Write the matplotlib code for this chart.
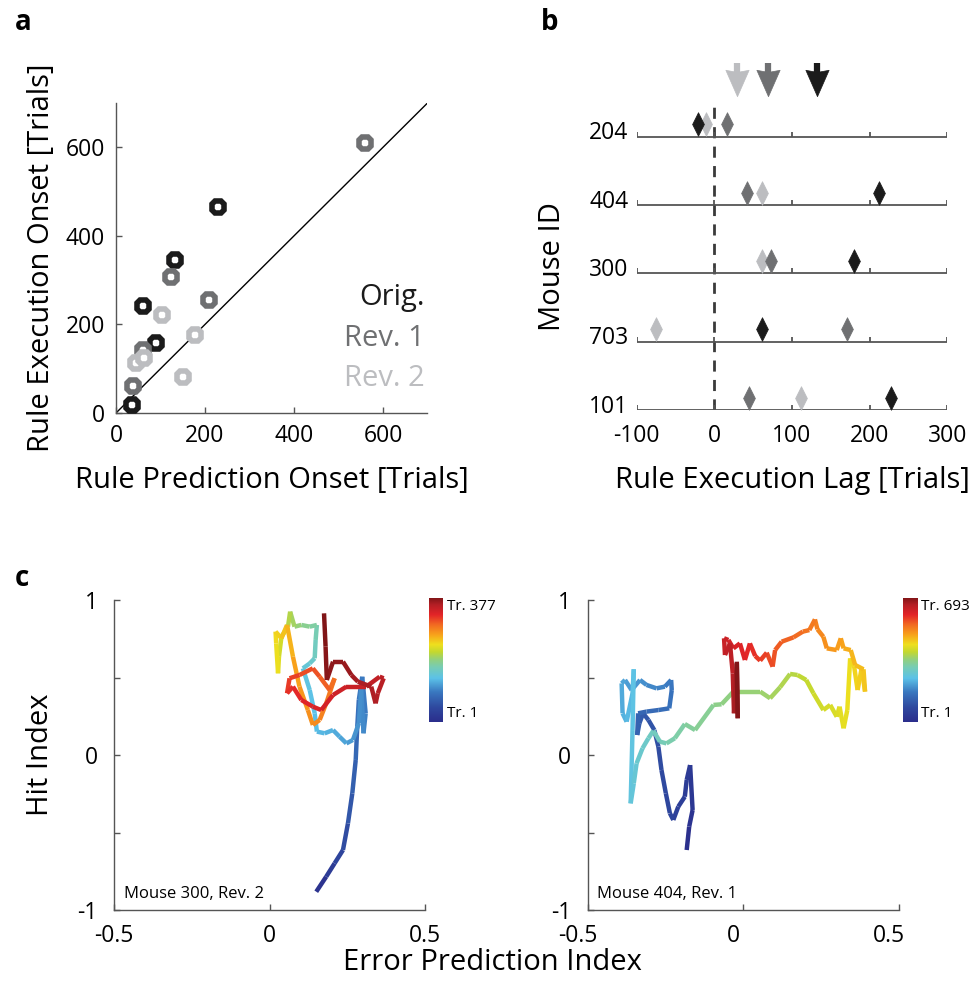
import numpy as np
import matplotlib
matplotlib.use("Agg")
import matplotlib.pyplot as plt
from matplotlib.collections import LineCollection
from matplotlib.colors import LinearSegmentedColormap, Normalize
from matplotlib.path import Path
import matplotlib.transforms as mtransforms

plt.rcParams['font.family'] = ['Open Sans', 'DejaVu Sans']

# ---------------- data ----------------
# panel a: onsets [trials]
orig_pred = [35, 91, 61, 133, 230]
orig_exec = [18, 158, 242, 346, 465]
rev1_pred = [39, 61, 123, 210, 560]
rev1_exec = [60, 142, 306, 256, 610]
rev2_pred = [46, 63, 104, 178, 151]
rev2_exec = [112, 124, 222, 176, 82]

# panel b: execution lag per mouse
mouse_ids = ['101', '703', '300', '404', '204']
lag_orig = [227, 62, 180, 212, -21]
lag_rev1 = [45, 171, 73, 42, 16]
lag_rev2 = [111, -75, 61, 61, -11]

# panel c: trajectories (trial, error prediction index, hit index)
m300_trial = [1, 16, 31, 42, 54, 65, 72, 80, 87, 91, 95, 99, 103, 106, 110, 114, 118, 121,
              125, 129, 133, 136, 140, 148, 155, 163, 170, 178, 185, 193, 200, 208, 215, 223,
              230, 234, 238, 245, 253, 260, 268, 272, 275, 279, 283, 287, 294, 302, 306, 309,
              313, 317, 321, 324, 328, 332, 336, 339, 343, 347, 351, 353, 355, 357, 358, 362,
              366, 368, 370, 373, 377]
m300_x = [0.150, 0.182, 0.209, 0.236, 0.252, 0.266, 0.277, 0.282, 0.287, 0.298, 0.309, 0.302,
          0.295, 0.287, 0.268, 0.247, 0.225, 0.204, 0.177, 0.152, 0.145, 0.129, 0.107, 0.129,
          0.145, 0.148, 0.152, 0.129, 0.102, 0.080, 0.066, 0.059, 0.038, 0.030, 0.027, 0.021,
          0.019, 0.038, 0.056, 0.075, 0.096, 0.123, 0.139, 0.161, 0.182, 0.209, 0.193, 0.161,
          0.139, 0.096, 0.064, 0.056, 0.075, 0.102, 0.139, 0.166, 0.204, 0.247, 0.311, 0.354,
          0.367, 0.348, 0.341, 0.327, 0.284, 0.263, 0.236, 0.204, 0.184, 0.180, 0.175]
m300_y = [-0.882, -0.785, -0.699, -0.613, -0.441, -0.247, -0.032, 0.183, 0.355, 0.505, 0.269,
          0.140, 0.441, 0.204, 0.097, 0.075, 0.118, 0.161, 0.140, 0.151, 0.269, 0.419, 0.559,
          0.591, 0.624, 0.742, 0.839, 0.828, 0.839, 0.828, 0.925, 0.828, 0.763, 0.634, 0.527,
          0.720, 0.796, 0.753, 0.839, 0.634, 0.441, 0.290, 0.194, 0.226, 0.333, 0.495, 0.419,
          0.505, 0.559, 0.516, 0.495, 0.398, 0.441, 0.355, 0.312, 0.290, 0.387, 0.441, 0.441,
          0.505, 0.495, 0.398, 0.333, 0.441, 0.473, 0.516, 0.602, 0.602, 0.484, 0.699, 0.914]

m404_trial = [1, 15, 29, 36, 43, 49, 56, 63, 70, 77, 84, 91, 98, 105, 112, 119, 126, 132, 139,
              146, 153, 160, 167, 174, 181, 188, 195, 202, 209, 216, 223, 230, 237, 244, 250,
              257, 264, 271, 278, 285, 292, 299, 306, 313, 320, 327, 333, 340, 347, 354, 361,
              368, 375, 382, 389, 396, 402, 406, 409, 416, 420, 423, 430, 437, 444, 447, 451,
              458, 465, 472, 479, 486, 492, 499, 506, 513, 520, 527, 534, 541, 548, 555, 562,
              569, 576, 582, 589, 596, 603, 610, 617, 624, 631, 638, 645, 651, 665, 679, 693]
m404_x = [-0.182, -0.174, -0.163, -0.171, -0.182, -0.188, -0.209, -0.225, -0.236, -0.249,
          -0.263, -0.273, -0.286, -0.305, -0.322, -0.334, -0.341, -0.338, -0.311, -0.273,
          -0.238, -0.230, -0.232, -0.252, -0.279, -0.311, -0.332, -0.359, -0.380, -0.391,
          -0.388, -0.375, -0.356, -0.352, -0.356, -0.362, -0.352, -0.343, -0.324, -0.305,
          -0.289, -0.268, -0.247, -0.220, -0.188, -0.155, -0.096, -0.070, -0.032, 0.054,
          0.086, 0.118, 0.150, 0.174, 0.202, 0.225, 0.257, 0.279, 0.300, 0.309, 0.322, 0.334,
          0.343, 0.356, 0.367, 0.380, 0.391, 0.386, 0.359, 0.345, 0.322, 0.313, 0.300, 0.268,
          0.257, 0.238, 0.230, 0.212, 0.191, 0.161, 0.123, 0.102, 0.094, 0.075, 0.054, 0.038,
          0.021, 0.005, -0.011, -0.032, -0.048, -0.062, -0.059, -0.043, -0.034, -0.030,
          -0.021, -0.018, -0.021]
m404_y = [-0.613, -0.462, -0.355, -0.065, -0.161, -0.269, -0.333, -0.419, -0.376, -0.247,
          -0.097, 0.054, 0.161, 0.226, 0.269, 0.204, 0.129, 0.269, 0.280, 0.290, 0.301, 0.419,
          0.484, 0.441, 0.430, 0.452, 0.484, 0.419, 0.484, 0.462, 0.269, 0.215, 0.398, 0.553,
          0.161, -0.312, -0.183, -0.054, 0.043, 0.108, 0.157, 0.086, 0.075, 0.108, 0.200,
          0.161, 0.323, 0.327, 0.409, 0.409, 0.366, 0.437, 0.523, 0.516, 0.484, 0.398, 0.290,
          0.323, 0.247, 0.312, 0.172, 0.290, 0.624, 0.570, 0.419, 0.559, 0.409, 0.553, 0.581,
          0.677, 0.688, 0.753, 0.677, 0.688, 0.763, 0.811, 0.875, 0.806, 0.796, 0.759, 0.731,
          0.677, 0.570, 0.660, 0.609, 0.639, 0.720, 0.613, 0.720, 0.688, 0.742, 0.753, 0.645,
          0.720, 0.527, 0.269, 0.591, 0.237, 0.602]

# ---------------- styles ----------------
C_ORIG = '#1b1b1b'
C_REV1 = '#6f7072'
C_REV2 = '#bcbdc0'
SPINE = '#555555'

cmap = LinearSegmentedColormap.from_list('softjet', [
    (0.00, '#2b2e8c'), (0.12, '#2f4aa0'), (0.24, '#3a78c0'), (0.35, '#5cc2e8'),
    (0.44, '#78cdb4'), (0.50, '#93d07e'), (0.56, '#c3d830'), (0.62, '#efe01e'),
    (0.70, '#f8a21b'), (0.78, '#f26a22'), (0.86, '#e32428'), (0.94, '#b41f25'),
    (1.00, '#7c1416')])

FIG_W, FIG_H = 976, 991
fig = plt.figure(figsize=(FIG_W / 100, FIG_H / 100), dpi=100)

def ax_px(x0, x1, ytop, ybot):
    return fig.add_axes([x0 / FIG_W, 1 - ybot / FIG_H, (x1 - x0) / FIG_W, (ybot - ytop) / FIG_H])

TICK_FS = 16.5
LAB_FS = 21

# ---------------- panel a ----------------
axa = ax_px(116, 427.5, 103, 413)
axa.plot([0, 700], [0, 700], color='black', lw=1.0, zorder=1)
for px, py, c in [(orig_pred, orig_exec, C_ORIG), (rev1_pred, rev1_exec, C_REV1),
                  (rev2_pred, rev2_exec, C_REV2)]:
    axa.plot(px, py, linestyle='none', marker='8', ms=9.5, mew=4.0, mfc='white', mec=c,
             zorder=3, clip_on=False)
axa.set_xlim(0, 700)
axa.set_ylim(0, 700)
axa.set_xticks([0, 200, 400, 600])
axa.set_yticks([0, 200, 400, 600])
axa.tick_params(direction='in', length=4, width=1, color=SPINE, labelsize=TICK_FS, pad=8)
for s in ['top', 'right']:
    axa.spines[s].set_visible(False)
for s in ['left', 'bottom']:
    axa.spines[s].set_color(SPINE)
    axa.spines[s].set_linewidth(1.0)
axa.set_xlabel('Rule Prediction Onset [Trials]', fontsize=LAB_FS, labelpad=13)
axa.set_ylabel('Rule Execution Onset [Trials]', fontsize=LAB_FS, labelpad=7)
for txt, c, ypx in [('Orig.', C_ORIG, 298), ('Rev. 1', C_REV1, 338), ('Rev. 2', C_REV2, 378)]:
    axa.text(425 / FIG_W, 1 - ypx / FIG_H, txt, color=c, fontsize=LAB_FS, ha='right',
             va='center', transform=fig.transFigure)

# ---------------- panel b ----------------
axb = ax_px(636.7, 947.3, 54.7, 410)
axb.set_xlim(-100, 300)
axb.set_ylim(0, 5.2)
for s in axb.spines.values():
    s.set_visible(False)
xt = [-100, 0, 100, 200, 300]
for i in range(len(mouse_ids)):
    axb.hlines(i, -100, 300, color=SPINE, lw=1.3)
    axb.vlines(xt, i, i + 0.075, color=SPINE, lw=1.3)
axb.vlines(0, 0, 4.54, color='#3a3a3a', lw=2.0, linestyles=(0, (4, 3)), zorder=1)
diamond = Path([(0, 1), (0.5, 0), (0, -1), (-0.5, 0), (0, 1)],
               [Path.MOVETO, Path.LINETO, Path.LINETO, Path.LINETO, Path.CLOSEPOLY])
rows = np.arange(len(mouse_ids))
for lag, c in [(lag_rev2, C_REV2), (lag_rev1, C_REV1), (lag_orig, C_ORIG)]:
    axb.plot(lag, rows + 0.18, linestyle='none', marker=diamond, ms=17, mfc=c, mec=c,
             mew=0.5, zorder=4, clip_on=False)
# mean-lag arrows: shaft + triangular head
head = Path([(-0.44, 0.5), (0.0, 0.42), (0.44, 0.5), (0.0, -0.5), (-0.44, 0.5)],
            [Path.MOVETO, Path.LINETO, Path.LINETO, Path.LINETO, Path.CLOSEPOLY])
for lag, c in [(lag_rev2, C_REV2), (lag_rev1, C_REV1), (lag_orig, C_ORIG)]:
    m = np.mean(lag)
    axb.vlines(m, 4.85, 5.08, color=c, lw=4.5, clip_on=False)
    axb.plot([m], [4.785], linestyle='none', marker=head, ms=19, mfc=c, mec=c, mew=0.5,
             clip_on=False)
for i, lab in enumerate(mouse_ids):
    axb.text(-111, i + 0.05, lab, fontsize=TICK_FS, ha='right', va='center')
axb.set_yticks([])
axb.set_xticks(xt)
axb.set_xticklabels([str(v) for v in xt])
axb.tick_params(axis='x', length=0, labelsize=TICK_FS, pad=10)
axb.set_xlabel('Rule Execution Lag [Trials]', fontsize=LAB_FS, labelpad=13)
fig.text(553 / FIG_W, 1 - 267 / FIG_H, 'Mouse ID', rotation=90, fontsize=LAB_FS,
         ha='center', va='center')

# ---------------- panel c ----------------
def traj_panel(x0, x1, trial, xs, ys, ntr, cbx, label, xlab_shift):
    ax = ax_px(x0, x1, 600, 910)
    pts = np.column_stack([xs, ys])
    segs = np.stack([pts[:-1], pts[1:]], axis=1)
    tr = np.asarray(trial, float)
    mid = 0.5 * (tr[:-1] + tr[1:])
    norm = Normalize(1, ntr)
    lc = LineCollection(segs, colors=cmap(norm(mid)), linewidths=3.2, capstyle='butt',
                        joinstyle='miter')
    ax.add_collection(lc)
    ax.set_xlim(-0.5, 0.5)
    ax.set_ylim(-1, 1)
    ax.set_xticks([-0.5, 0, 0.5])
    ax.set_xticklabels(['-0.5', '0', '0.5'])
    ax.set_yticks([-1, -0.5, 0, 0.5, 1])
    ax.set_yticklabels(['-1', '', '0', '', '1'])
    ax.tick_params(direction='in', length=4, width=1, color=SPINE, labelsize=TICK_FS)
    ax.tick_params(axis='x', pad=10)
    ax.tick_params(axis='y', pad=12)
    for s in ['top', 'right']:
        ax.spines[s].set_visible(False)
    for s in ['left', 'bottom']:
        ax.spines[s].set_color(SPINE)
        ax.spines[s].set_linewidth(1.0)
    if xlab_shift:
        off = mtransforms.ScaledTranslation(xlab_shift / 100, 0, fig.dpi_scale_trans)
        for t in ax.get_xticklabels():
            t.set_transform(t.get_transform() + off)
    ax.text(0.03, 0.025, label, transform=ax.transAxes, fontsize=12, ha='left',
            va='bottom')
    cax = ax_px(cbx, cbx + 14, 598, 722)
    cax.imshow(np.linspace(0, 1, 256)[:, None], aspect='auto', cmap=cmap, origin='lower',
               extent=[0, 1, 0, 1])
    cax.set_xticks([])
    cax.set_yticks([])
    for s in cax.spines.values():
        s.set_visible(False)
    cax.text(1.25, 0.93, 'Tr. %d' % ntr, transform=cax.transAxes, fontsize=11,
             ha='left', va='center')
    cax.text(1.25, 0.07, 'Tr. 1', transform=cax.transAxes, fontsize=11, ha='left',
             va='center')
    return ax

traj_panel(114.3, 425, m300_trial, m300_x, m300_y, 377, 429.3, 'Mouse 300, Rev. 2', 0)
traj_panel(587.7, 899, m404_trial, m404_x, m404_y, 693, 903.3, 'Mouse 404, Rev. 1', -10)

fig.text(492 / FIG_W, 1 - 963 / FIG_H, 'Error Prediction Index', fontsize=LAB_FS,
         ha='center', va='center')
fig.text(40 / FIG_W, 1 - 755 / FIG_H, 'Hit Index', rotation=90, fontsize=LAB_FS,
         ha='center', va='center')

# panel letters
for L, x, y in [('a', 23, 22), ('b', 550, 22), ('c', 22, 578)]:
    fig.text(x / FIG_W, 1 - y / FIG_H, L, fontsize=20, fontweight='bold', ha='center',
             va='center')

fig.savefig('out.png', dpi=100)
